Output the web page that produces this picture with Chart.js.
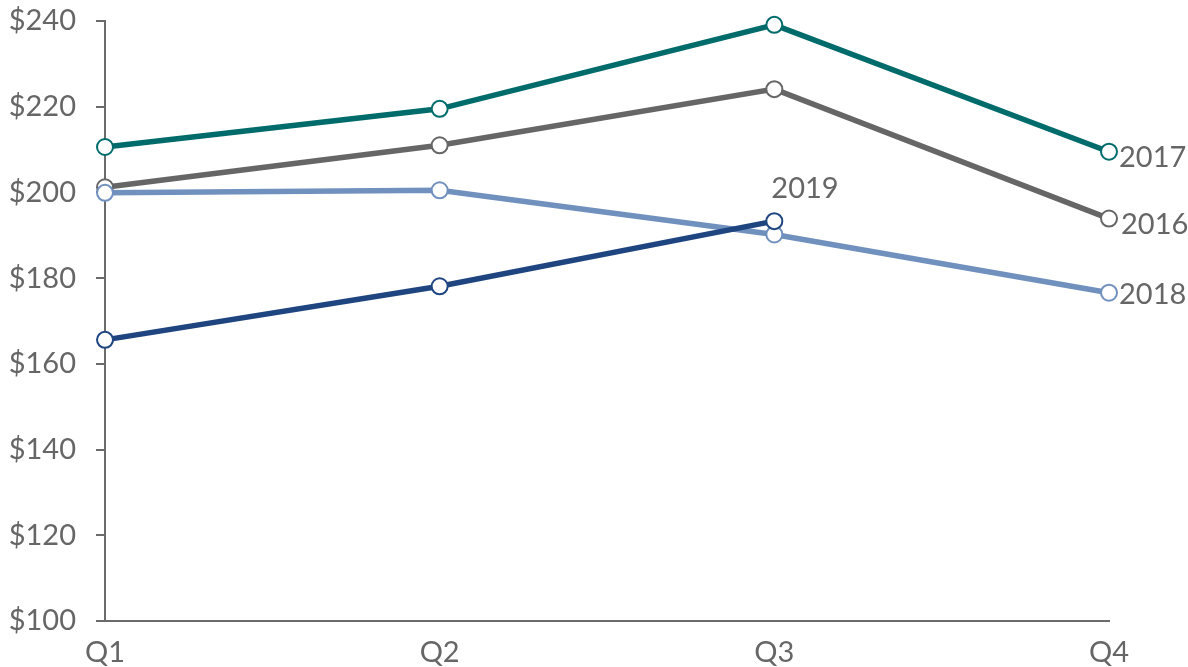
<!DOCTYPE html>
<html>
<head>
<meta charset="utf-8">
<script src="https://cdn.jsdelivr.net/npm/chart.js@4"></script>
<style>
  body { margin: 0; background: #fff; }
  #wrap { width: 1188px; height: 667px; }
</style>
</head>
<body>
<div id="wrap"><canvas id="chart"></canvas></div>
<script>
'use strict';

// data
let quarters = ['Q1', 'Q2', 'Q3', 'Q4'];
let sales2016 = [201.2, 211, 224.1, 193.9];
let sales2017 = [210.6, 219.5, 239.1, 209.5];
let sales2018 = [199.9, 200.5, 190.2, 176.6];
let sales2019 = [165.6, 178.1, 193.3, null];
let yTicks = [100, 120, 140, 160, 180, 200, 220, 240];

let textGray = '#666666';
let fontFamily = 'Lato, "Open Sans", sans-serif';

// draw each series' name next to its last point
let endLabels = {
  id: 'endLabels',
  afterDatasetsDraw(chart) {
    let ctx = chart.ctx;
    ctx.save();
    ctx.font = '29px ' + fontFamily;
    ctx.fillStyle = textGray;
    chart.data.datasets.forEach((ds, i) => {
      let meta = chart.getDatasetMeta(i);
      let last = -1;
      ds.data.forEach((v, j) => { if (v !== null) last = j; });
      let pt = meta.data[last];
      let off = ds.labelOffset;
      ctx.textAlign = 'left';
      ctx.textBaseline = 'middle';
      ctx.fillText(ds.label, pt.x + off[0], pt.y + off[1]);
    });
    ctx.restore();
  }
};

function line(label, values, color, order, labelOffset) {
  return {
    label: label,
    data: values,
    borderColor: color,
    borderWidth: 5.5,
    pointRadius: 8,
    pointBorderWidth: 2,
    pointBackgroundColor: '#ffffff',
    pointBorderColor: color,
    tension: 0,
    order: order,
    clip: false,
    labelOffset: labelOffset
  };
}

let data = {
  labels: quarters,
  datasets: [
    line('2016', sales2016, '#666666', 3, [12, 6]),
    line('2017', sales2017, '#006B6B', 2, [10, 6]),
    line('2018', sales2018, '#7090BE', 1, [10, 2]),
    line('2019', sales2019, '#1F4580', 0, [-3, -33])
  ]
};

let config = {
  type: 'line',
  data: data,
  plugins: [endLabels],
  options: {
    responsive: true,
    maintainAspectRatio: false,
    animation: false,
    layout: { padding: { top: 21, right: 79, left: 0, bottom: 0 } },
    plugins: {
      legend: { display: false },
      tooltip: { enabled: false }
    },
    scales: {
      x: {
        offset: false,
        grid: { display: false },
        border: { display: true, color: '#6b6b6b', width: 2 },
        ticks: {
          color: textGray,
          font: { family: fontFamily, size: 29 },
          padding: 6,
          maxRotation: 0
        },
        afterFit(scale) {
          scale.height = 46;
          scale.paddingLeft = 0;
          scale.paddingRight = 0;
        }
      },
      y: {
        min: 100,
        max: 240,
        afterBuildTicks(scale) { scale.ticks = yTicks.map(v => ({ value: v })); },
        grid: {
          drawOnChartArea: false,
          drawTicks: true,
          tickLength: 9,
          tickColor: '#6b6b6b',
          lineWidth: 2
        },
        border: { display: true, color: '#6b6b6b', width: 2 },
        ticks: {
          color: textGray,
          font: { family: fontFamily, size: 29 },
          padding: 20,
          callback: v => '$' + v
        },
        afterFit(scale) {
          scale.width = 105;
          scale.paddingTop = 0;
          scale.paddingBottom = 0;
        }
      }
    }
  }
};

new Chart(document.getElementById('chart'), config);
</script>
</body>
</html>
